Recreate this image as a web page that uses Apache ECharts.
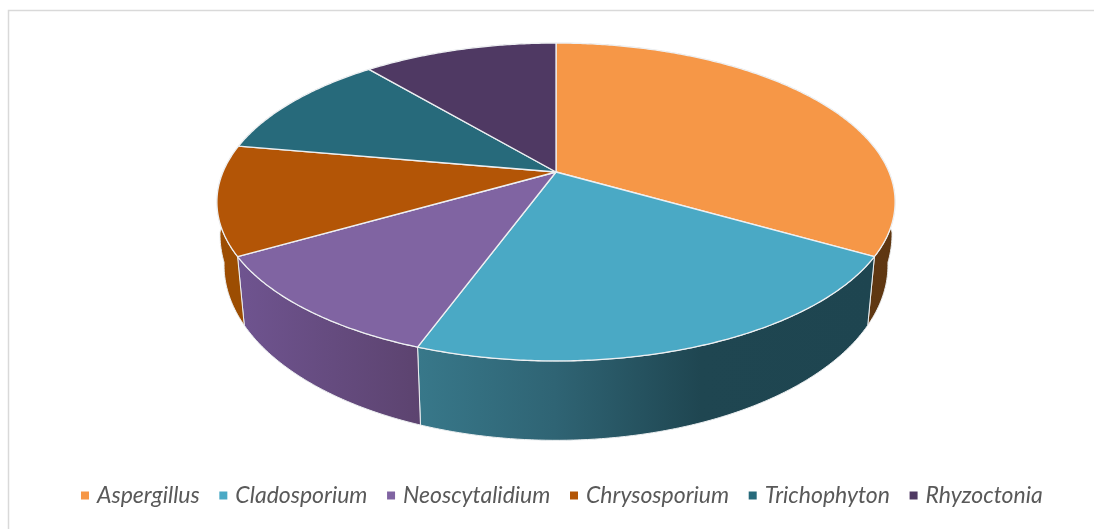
<!DOCTYPE html>
<html>
<head>
<meta charset="utf-8">
<style>html,body{margin:0;padding:0;background:#fff}#c{width:1094px;height:529px}</style>
<script src="https://cdn.jsdelivr.net/npm/echarts@6/dist/echarts.min.js"></script>
</head>
<body>
<div id="c"></div>
<script>
const categories = ['Aspergillus','Cladosporium','Neoscytalidium','Chrysosporium','Trichophyton','Rhyzoctonia'];
const values = [3,2,1,1,1,1];

const topColors = ['#f69747','#4aa9c5','#8064a2','#b35506','#276a7b','#4f3963'];
const wallStops = [
  [[0,'#633a15'],[1,'#5f3712']],
  [[0,'#38788a'],[0.3,'#2f6474'],[0.62,'#1f4651'],[1,'#1e4550']],
  [[0,'#6f5490'],[1,'#5c436f']],
  [[0,'#9c4d02'],[1,'#9c4d02']],
  [[0,'#1e4f5e'],[1,'#1e4f5e']],
  [[0,'#3d2c4d'],[1,'#3d2c4d']]
];

const total = values.reduce((s,v)=>s+v,0);
const cx = 556, k = 0.1887;
const topFace = {a:333, b:153.3, cy:172, flare:0};
const botFace = {a:326, b:169, cy:232, flare:10};

function project(face, deg){
  const t = deg*Math.PI/180, u = Math.sin(t), v = -Math.cos(t), w = 1-k*v;
  // the wall silhouette leaves the rim higher than a plain ellipse would
  const bump = Math.min(1, Math.max(0, (0.174-v)/0.174)) * face.flare * Math.sign(u);
  return [cx + face.a*u/w + bump, face.cy + face.b*v/w];
}
function arc(face, from, to){
  const pts = [], n = Math.max(2, Math.ceil((to-from)*2));
  for(let i=0;i<=n;i++) pts.push(project(face, from+(to-from)*i/n));
  return pts;
}

function renderSlice(index){
  return function(params, api){
    const start = api.value(0)/total*360;
    const end = start + api.value(1)/total*360;
    const topArc = arc(topFace,start,end);
    const botArc = arc(botFace,start,end);
    return {
      type:'group',
      children:[
        {
          type:'polygon', z2:1,
          shape:{points:topArc.concat(botArc.slice().reverse())},
          style:{
            fill:{type:'linear',x:0,y:0,x2:1,y2:0,
              colorStops:wallStops[index].map(s=>({offset:s[0],color:s[1]}))},
            stroke:'#eceff1',lineWidth:1
          }
        },
        {
          type:'polygon', z2:10,
          shape:{points:[[cx,topFace.cy]].concat(topArc)},
          style:{fill:topColors[index],stroke:'#eef0f2',lineWidth:1.3,lineJoin:'round'}
        }
      ]
    };
  };
}

let cum = 0;
const series = categories.map((name,i)=>{
  const s = {
    type:'custom', name, coordinateSystem:'none',
    itemStyle:{color:topColors[i]},
    silent:true, animation:false,
    renderItem:renderSlice(i),
    data:[[cum,values[i]]]
  };
  cum += values[i];
  return s;
});

const chart = echarts.init(document.getElementById('c'),null,{renderer:'canvas'});
chart.setOption({
  animation:false,
  backgroundColor:'#ffffff',
  graphic:[{type:'rect',silent:true,shape:{x:8.5,y:10.5,width:1200,height:700},
    style:{fill:'none',stroke:'#d9d9d9',lineWidth:1.5},z:-1}],
  legend:{
    data:categories, left:81, top:484, padding:0, icon:'rect',
    itemWidth:8, itemHeight:8, itemGap:19.6, selectedMode:false,
    textStyle:{fontFamily:'Lato',fontStyle:'italic',fontSize:23,color:'#595959',padding:[0,0,0,3]}
  },
  series
});
</script>
</body>
</html>
